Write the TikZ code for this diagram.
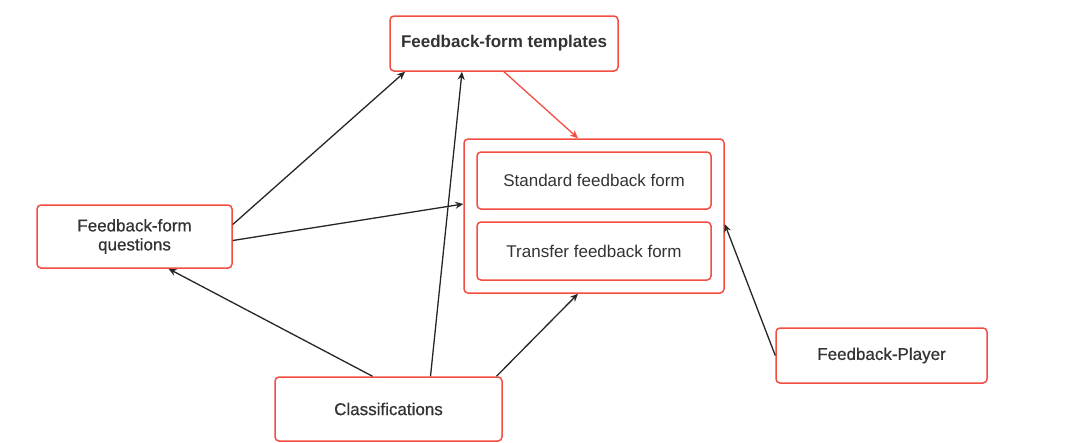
\documentclass[tikz,border=0pt]{standalone}
\usepackage{fontspec}
\setmainfont{Liberation Sans}
\newfontfamily\mediumfont[FakeBold=0.6]{Liberation Sans}
\usepackage{xcolor}
\usetikzlibrary{arrows.meta,positioning}

\definecolor{boxred}{RGB}{244,77,66}
\definecolor{txtgray}{RGB}{51,51,51}

\tikzset{
    box/.style={draw=boxred, line width=1.5pt, rounded corners=4pt, fill=white,
        text=txtgray, align=center, inner sep=0pt, font=\fontsize{17}{19}\selectfont},
    medbox/.style={box, font=\fontsize{17}{19}\selectfont\mediumfont},
    link/.style={draw=black!85, line width=1.3pt, -{Stealth[length=8pt,width=7pt]}},
}

\begin{document}
\begin{tikzpicture}[x=1pt, y=-1pt]
    % Fix the frame to the reference size
    \useasboundingbox (0,0) rectangle (1075,442);

    % Outer container with the two forms
    \node[box, minimum width=260pt, minimum height=154pt] (forms) at (594,216) {};
    \node[box, minimum width=234pt, minimum height=57pt] (standard) at (594,180.5) {Standard feedback form};
    \node[box, minimum width=234pt, minimum height=58pt] (transfer) at (594,251) {Transfer feedback form};

    % The other boxes
    \node[box, minimum width=228pt, minimum height=55pt, font=\fontsize{17}{19}\selectfont\bfseries] (templates) at (504,43.5) {Feedback-form templates};
    \node[medbox, minimum width=195pt, minimum height=63pt] (questions) at (134.5,236.5) {Feedback-form\\questions};
    \node[medbox, minimum width=227pt, minimum height=64pt] (classif) at (388.5,409) {Classifications};
    \node[medbox, minimum width=211pt, minimum height=55pt] (player) at (881.5,355.5) {Feedback-Player};

    % Connectors
    \draw[link] ([yshift=12pt]questions.east) -- ([xshift=-99pt]templates.south);
    \draw[link] ([yshift=-4pt]questions.east) -- ([yshift=12pt]forms.west);
    \draw[link] ([xshift=-16pt]classif.north) -- ([xshift=34pt]questions.south);
    \draw[link] ([xshift=42pt]classif.north) -- ([xshift=-42pt]templates.south);
    \draw[link] ([xshift=108pt]classif.north) -- ([xshift=-16pt]forms.south);
    \draw[link] (player.west) -- ([yshift=-8pt]forms.east);
    \draw[link, draw=boxred] (templates.south) -- ([xshift=-16pt]forms.north);
\end{tikzpicture}
\end{document}
